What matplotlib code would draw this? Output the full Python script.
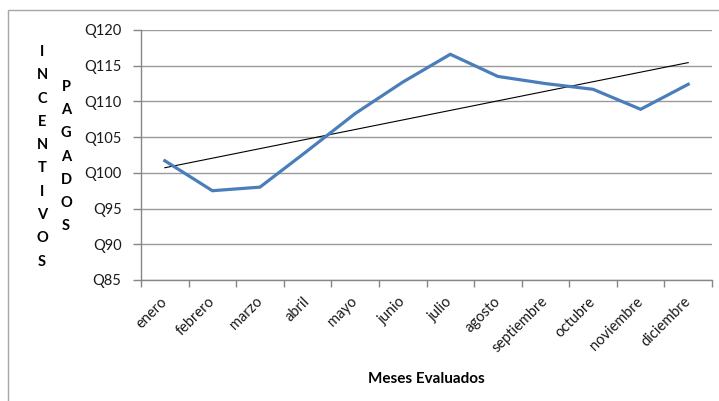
import numpy as np
import matplotlib
matplotlib.use("Agg")
import matplotlib.pyplot as plt
import matplotlib.patches as mpatches

# datos
meses = ["enero", "febrero", "marzo", "abril", "mayo", "junio", "julio",
         "agosto", "septiembre", "octubre", "noviembre", "diciembre"]
incentivos = [101.7, 97.5, 98.0, 103.1, 108.3, 112.7, 116.6,
              113.5, 112.5, 111.7, 108.9, 112.4]
y_ticks = [85, 90, 95, 100, 105, 110, 115, 120]
y_labels = ["Q85", "Q90", "Q95", "Q100", "Q105", "Q110", "Q115", "Q120"]

plt.rcParams['font.family'] = ['Lato', 'DejaVu Sans']

W, H = 719, 401
fig = plt.figure(figsize=(W / 100, H / 100), dpi=100)
ax = fig.add_axes([141 / W, 1 - 280 / H, (712 - 141) / W, 250 / H])

x = np.arange(len(meses))
# linea de tendencia lineal
m, b = np.polyfit(x, incentivos, 1)
ax.plot(x, m * x + b, color="black", linewidth=0.8, zorder=3)
ax.plot(x, incentivos, color="#4a7ebb", linewidth=2.3, zorder=4,
        solid_joinstyle="miter")

ax.set_xlim(-0.5, len(meses) - 0.5)
ax.set_ylim(85, 120)
ax.set_yticks(y_ticks)
ax.set_yticklabels(y_labels, fontsize=10.5, color="#1a1a1a")
ax.grid(axis="y", color="#9a9a9a", linewidth=1.0)
ax.set_axisbelow(True)

ax.set_xticks(x)
ax.set_xticklabels(meses, fontsize=10.5, color="#1a1a1a", rotation=45,
                   ha="right", va="center", rotation_mode="anchor")
ax.tick_params(axis="x", which="major", length=0, pad=14)
ax.set_xticks(np.arange(-0.5, len(meses)), minor=True)
ax.tick_params(axis="x", which="minor", length=5, color="#868686", width=1)
ax.tick_params(axis="y", length=6, color="#868686", width=1, pad=8)

for s in ["top", "right"]:
    ax.spines[s].set_visible(False)
for s in ["left", "bottom"]:
    ax.spines[s].set_color("#868686")
    ax.spines[s].set_linewidth(1.0)

ax.set_xlabel("Meses Evaluados", fontsize=11, fontweight="bold", labelpad=12)

# etiquetas verticales letra por letra
for i, c in enumerate("INCENTIVOS"):
    fig.text(42 / W, 1 - (52 + i * 23.3) / H, c, fontsize=10.5,
             fontweight="bold", ha="center", va="center")
for i, c in enumerate("PAGADOS"):
    fig.text(66 / W, 1 - (87 + i * 23.2) / H, c, fontsize=10.5,
             fontweight="bold", ha="center", va="center")

# marco del grafico
fig.patches.append(mpatches.Rectangle((8 / W, -0.05), 1.2, 1 - 10 / H + 0.05,
                                      transform=fig.transFigure, fill=False,
                                      edgecolor="#a6a6a6", linewidth=1.0))

plt.savefig("out.png", dpi=100)
